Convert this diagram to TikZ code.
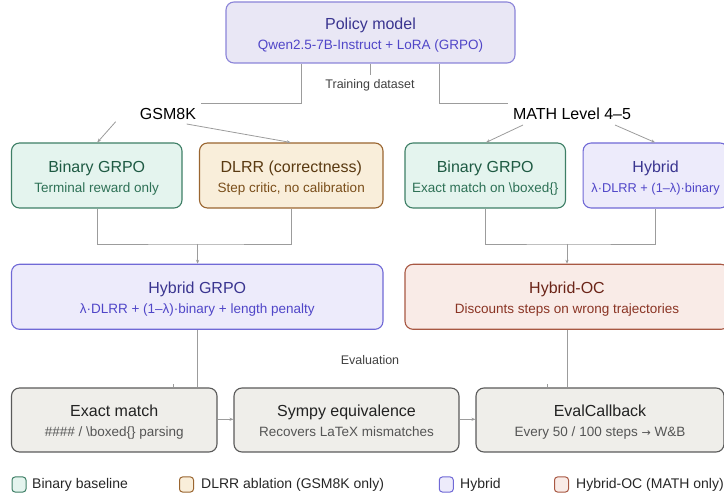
\documentclass[tikz,border=0pt]{standalone}
\usepackage{fontspec}
\setmainfont{Liberation Sans}
\newfontfamily\djv{DejaVu Sans}
\usetikzlibrary{arrows.meta}
\definecolor{conn}{HTML}{9C9C9C}
\definecolor{gF}{HTML}{E4F4EE}\definecolor{gD}{HTML}{3E7F66}\definecolor{gT}{HTML}{1E5A43}\definecolor{gS}{HTML}{2E7156}
\definecolor{oF}{HTML}{F9EEDA}\definecolor{oD}{HTML}{9A6530}\definecolor{oT}{HTML}{5A3A12}\definecolor{oS}{HTML}{7A4E1A}
\definecolor{pF}{HTML}{EDEBFB}\definecolor{pD}{HTML}{7069D6}\definecolor{pT}{HTML}{3A3590}\definecolor{pS}{HTML}{5046C8}
\definecolor{qF}{HTML}{E9E7F5}\definecolor{qD}{HTML}{8B84D8}
\definecolor{rF}{HTML}{F9EBE7}\definecolor{rD}{HTML}{A85843}\definecolor{rT}{HTML}{6B2418}\definecolor{rS}{HTML}{8A3424}
\definecolor{eF}{HTML}{EFEEEA}\definecolor{eD}{HTML}{5A5A5A}\definecolor{eT}{HTML}{222222}\definecolor{eS}{HTML}{555555}
\tikzset{
  bx/.style={rectangle,rounded corners=8pt,line width=1.1pt,inner sep=0pt},
  gbox/.style={bx,fill=gF,draw=gD}, gboxT/.style={text=gT}, gboxS/.style={text=gS},
  obox/.style={bx,fill=oF,draw=oD}, oboxT/.style={text=oT}, oboxS/.style={text=oS},
  pbox/.style={bx,fill=pF,draw=pD}, pboxT/.style={text=pT}, pboxS/.style={text=pS},
  qbox/.style={bx,fill=qF,draw=qD}, qboxT/.style={text=pT}, qboxS/.style={text=pS},
  rbox/.style={bx,fill=rF,draw=rD}, rboxT/.style={text=rT}, rboxS/.style={text=rS},
  ebox/.style={bx,fill=eF,draw=eD}, eboxT/.style={text=eT}, eboxS/.style={text=eS},
  ttl/.style={anchor=base,inner sep=0pt,font=\fontsize{16}{19}\selectfont},
  sub/.style={anchor=base,inner sep=0pt,font=\fontsize{13.5}{16}\selectfont},
  lbl/.style={inner sep=0pt,font=\fontsize{16}{19}\selectfont,text=black},
  small/.style={inner sep=0pt,font=\fontsize{12.5}{15}\selectfont,text=black!75},
  cn/.style={draw=conn,line width=0.8pt},
  ar/.style={cn,-{Stealth[length=4pt,width=3.2pt]}},
  leg/.style={rectangle,rounded corners=3pt,line width=1pt,minimum width=14pt,minimum height=15pt,inner sep=0pt},
  legt/.style={anchor=west,inner sep=0pt,font=\fontsize{14}{17}\selectfont,text=black!85},
}
\newcommand\mybox[8]{%
  \node[#6,minimum width=#4pt,minimum height=#5pt] (#1) at (#2,#3) {};
  \node[ttl,#6T] (#1t) at (#2,{#3-3}) {#7};
  \node[sub,#6S] (#1s) at (#2,{#3+17}) {#8};
}
\begin{document}
\begin{tikzpicture}[x=1pt,y=-1pt]
\useasboundingbox (0,0) rectangle (724,497);
% boxes
\mybox{pm}{370.5}{32.5}{289}{61}{qbox}{Policy model}{Qwen2.5-7B-Instruct + LoRA (GRPO)}
\mybox{bl}{96.75}{175.5}{170.5}{65}{gbox}{Binary GRPO}{Terminal reward only}
\mybox{dl}{291.25}{175.5}{183.5}{65}{obox}{DLRR (correctness)}{Step critic, no calibration}
\mybox{br}{485.25}{175.5}{160.5}{65}{gbox}{Binary GRPO}{Exact match on \textbackslash boxed\{\}}
\mybox{hy}{655.6}{175.5}{145}{65}{pbox}{Hybrid}{\fontsize{12.8}{15}\selectfont λ·DLRR + (1–λ)·binary}
\mybox{hg}{197.25}{296.8}{371.5}{65}{pbox}{Hybrid GRPO}{λ·DLRR + (1–λ)·binary + length penalty}
\mybox{hoc}{567}{296.8}{324}{65}{rbox}{Hybrid-OC}{Discounts steps on wrong trajectories}
\mybox{em}{114.25}{420}{205.5}{64}{ebox}{Exact match}{\#\#\#\# / \textbackslash boxed\{\} parsing}
\mybox{sy}{346.5}{420}{225}{64}{ebox}{Sympy equivalence}{Recovers LaTeX mismatches}
\mybox{ec}{600}{420}{248}{64}{ebox}{EvalCallback}{Every 50 / 100 steps {\djv\fontsize{11}{13}\selectfont →} W\&B}
% dataset labels
\node[lbl] (gsm) at (168,114) {GSM8K};
\node[lbl] (math) at (572,114) {MATH Level 4–5};
\node[small] (td) at (370,85) {Training dataset};
\node[small] (ev) at (370,360) {Evaluation};
% policy -> datasets
\draw[cn] (pm.south -| 301,0) |- (201,103);
\draw[cn] (pm.south -| 439,0) |- (508,103);
\draw[cn] (pm.south) -- ++(0,11);
% datasets -> row 2
\draw[ar] (115.7,121.7) -- (bl.north -| 97.3,0);
\draw[ar] (186.7,124) -- (dl.north -| 290.7,0);
\draw[ar] (523,125) -- (br.north -| 486,0);
\draw[ar] (615,125) -- (hy.north -| 655,0);
% row 2 -> row 3
\coordinate (jl) at (197.6,244);
\coordinate (jr) at (567,244);
\draw[cn] (bl.south -| 97.4,0) |- (jl) -| (dl.south -| 291,0);
\draw[ar] (jl) -- (hg.north -| jl);
\draw[cn] (br.south -| 485,0) |- (jr) -| (hy.south -| 655.6,0);
\draw[ar] (jr) -- (hoc.north -| jr);
% row 3 -> row 4
\draw[cn] (hg.south -| jl) -- (em.north -| jl);
\draw[cn] (hoc.south -| jr) -- (ec.north -| jr);
\coordinate (tk1) at (173,384.5);
\coordinate (tk2) at (547.5,384.5);
\draw[cn,line width=0.6pt] (tk1) -- ++(0,2.5);
\draw[cn,line width=0.6pt] (tk2) -- ++(0,2.5);
% row 4 arrows
\draw[ar] (em.east |- 0,419.3) -- (sy.west |- 0,419.3);
\draw[ar] (sy.east |- 0,419.3) -- (ec.west |- 0,419.3);
% legend
\node[leg,fill=gF,draw=gD] (lg1) at (19,484.5) {};
\node[legt] (lt1) at (32,484.5) {Binary baseline};
\node[leg,fill=oF,draw=oD] (lg2) at (186.5,484.5) {};
\node[legt] (lt2) at (201,484.5) {DLRR ablation (GSM8K only)};
\node[leg,fill=pF,draw=pD] (lg3) at (446.3,484.5) {};
\node[legt] (lt3) at (460,484.5) {Hybrid};
\node[leg,fill=rF,draw=rD] (lg4) at (561.5,484.5) {};
\node[legt] (lt4) at (576,484.5) {Hybrid-OC (MATH only)};
\end{tikzpicture}
\end{document}
